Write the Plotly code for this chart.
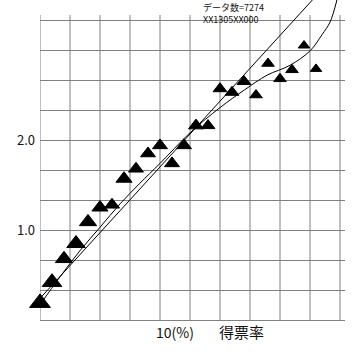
import plotly.graph_objects as go

# observed points: x = vote share (%), y = value
pt_x = list(range(24))
pt_y = [0.19, 0.42, 0.68, 0.85, 1.09, 1.25, 1.28, 1.57, 1.68, 1.85, 1.94, 1.74,
        1.94, 2.16, 2.16, 2.57, 2.53, 2.65, 2.50, 2.85, 2.68, 2.78, 3.05, 2.79]
pt_size = [18, 17, 15, 16, 15, 14, 13, 14, 13, 13, 13, 13,
           13, 13, 12, 12, 12, 12, 11, 11, 11, 11, 10, 10]

# straight fit line
lineA_x = [0, 5, 10, 15, 20, 23]
lineA_y = [0.24, 0.97, 1.70, 2.43, 3.16, 3.60]

# curved fit line
lineB_x = [0, 1.67, 3.33, 5, 6.67, 8.33, 10, 12.5, 15, 17.08, 18.92, 20.83, 22.5, 23.5, 24.17, 24.75]
lineB_y = [0.17, 0.48, 0.77, 1.03, 1.29, 1.52, 1.74, 2.08, 2.36, 2.56, 2.72, 2.83, 2.99, 3.17, 3.31, 3.56]

grid_x = [2.5 * k for k in range(11)]
grid_y = [k / 3 for k in range(1, 11)]
grid_y_text = ["" if k not in (3, 6) else f"{k // 3}.0" for k in range(1, 11)]

FONT = "Noto Sans CJK JP, DejaVu Sans, sans-serif"
GRID = "#808080"

fig = go.Figure()
fig.add_trace(go.Scatter(x=lineA_x, y=lineA_y, mode="lines",
                         line=dict(color="black", width=1), hoverinfo="skip"))
fig.add_trace(go.Scatter(x=lineB_x, y=lineB_y, mode="lines",
                         line=dict(color="black", width=1, shape="spline"), hoverinfo="skip"))
fig.add_trace(go.Scatter(x=pt_x, y=pt_y, mode="markers", cliponaxis=False,
                         marker=dict(symbol="triangle-up", color="black", size=pt_size,
                                     opacity=1, line=dict(width=1, color="black"))))

for gx in grid_x:
    fig.add_shape(type="line", x0=gx, x1=gx, y0=0, y1=(320 - 15) / 90,
                  xref="x", yref="y", line=dict(color=GRID, width=1), layer="below")

fig.add_annotation(x=10, y=0, xref="x", yref="y", text="10(%)", showarrow=False,
                   xanchor="left", yanchor="middle", xshift=-6, yshift=-12,
                   font=dict(family=FONT, size=14, color="#111"))
fig.add_annotation(x=(241 - 40) / 12, y=0, xref="x", yref="y", text="得票率", showarrow=False,
                   xanchor="center", yanchor="middle", yshift=-11,
                   font=dict(family=FONT, size=15, color="#111"))
fig.add_annotation(x=(201 - 40) / 12, y=320 / 90, xref="x", yref="y",
                   text="データ数=7274<br>XX1305XX000", showarrow=False,
                   xanchor="left", yanchor="top", align="left", yshift=1,
                   font=dict(family=FONT, size=9, color="#111"))

fig.update_layout(
    width=360, height=360,
    margin=dict(l=40, r=15, t=0, b=40),
    paper_bgcolor="white", plot_bgcolor="white",
    showlegend=False,
    xaxis=dict(range=[0, (345 - 40) / 12], showgrid=False, zeroline=False,
               showline=True, linecolor=GRID, linewidth=1,
               showticklabels=False, ticks="", fixedrange=True),
    yaxis=dict(range=[0, 320 / 90], tickmode="array", tickvals=grid_y, ticktext=grid_y_text,
               showgrid=True, gridcolor=GRID, gridwidth=1, zeroline=False,
               showline=False, ticks="", ticklabelstandoff=4,
               tickfont=dict(family=FONT, size=13, color="#111"), fixedrange=True),
)

fig.write_html("out.html")
